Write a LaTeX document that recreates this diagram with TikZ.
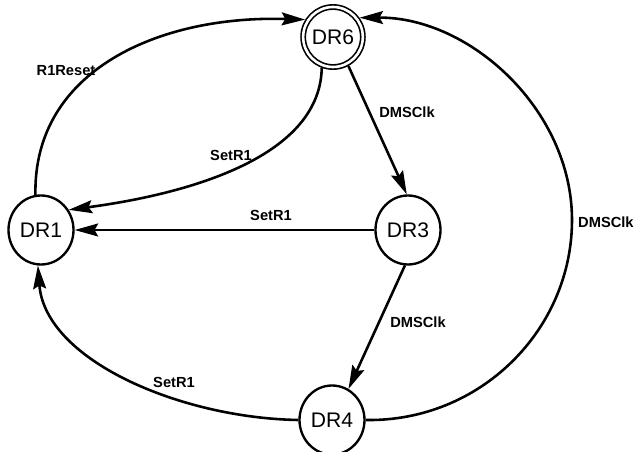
\documentclass[tikz,border=0pt]{standalone}
\usepackage{fontspec}
\setmainfont{Liberation Sans}
\usetikzlibrary{arrows.meta,shapes.geometric}
\begin{document}
\begin{tikzpicture}[x=0.03cm,y=-0.03cm,
  state/.style={ellipse,draw,line width=2pt,minimum width=1.95cm,minimum height=2.07cm,inner sep=0pt,
    font=\fontsize{18}{20}\selectfont},
  startstate/.style={ellipse,draw,double,double distance=2.2pt,line width=1.4pt,
    minimum width=1.62cm,minimum height=1.8cm,inner sep=0pt,outer sep=2.5pt,
    font=\fontsize{18}{20}\selectfont},
  edge/.style={line width=2.2pt,-{Stealth[length=20pt,width=11pt,inset=3pt]}},
  lab/.style={font=\bfseries\fontsize{12.5}{14}\selectfont,inner sep=0pt}]
\useasboundingbox (0,0) rectangle (636,452);
\node[startstate] (DR6) at (333,37) {DR6};
\node[state] (DR1) at (41,230) {DR1};
\node[state] (DR3) at (408,230) {DR3};
\node[state] (DR4) at (332,420) {DR4};
% R1Reset
\draw[edge] (DR1.99) .. controls (33,70) and (160,15) .. (DR6.148);
% SetR1 DR6 -> DR1
\draw[edge] (DR6.-110) .. controls (320,160) and (180,195) .. (DR1.36);
% DMSClk DR6 -> DR3
\draw[edge] (DR6.-62) -- (DR3.92);
% SetR1 DR3 -> DR1
\draw[edge] (DR3) -- (DR1);
% DMSClk DR3 -> DR4
\draw[edge] (DR3.-95) -- (DR4.62);
% SetR1 DR4 -> DR1
\draw[edge] (DR4.west) .. controls (180,418) and (45,360) .. (DR1.-95);
% DMSClk DR4 -> DR6
\draw[edge] (DR4.east) .. controls (480,422) and (572,330) .. (572,220)
  .. controls (572,110) and (470,17) .. (DR6.36);
% labels
\node[lab] (l1) at (66,71) {R1Reset};
\node[lab] (l2) at (231,155) {SetR1};
\node[lab] (l3) at (271,215) {SetR1};
\node[lab] (l4) at (407,112) {DMSClk};
\node[lab] (l5) at (418,322) {DMSClk};
\node[lab] (l6) at (174,382) {SetR1};
\node[lab,anchor=west] (l7) at (578,222) {DMSClk};
\end{tikzpicture}
\end{document}
